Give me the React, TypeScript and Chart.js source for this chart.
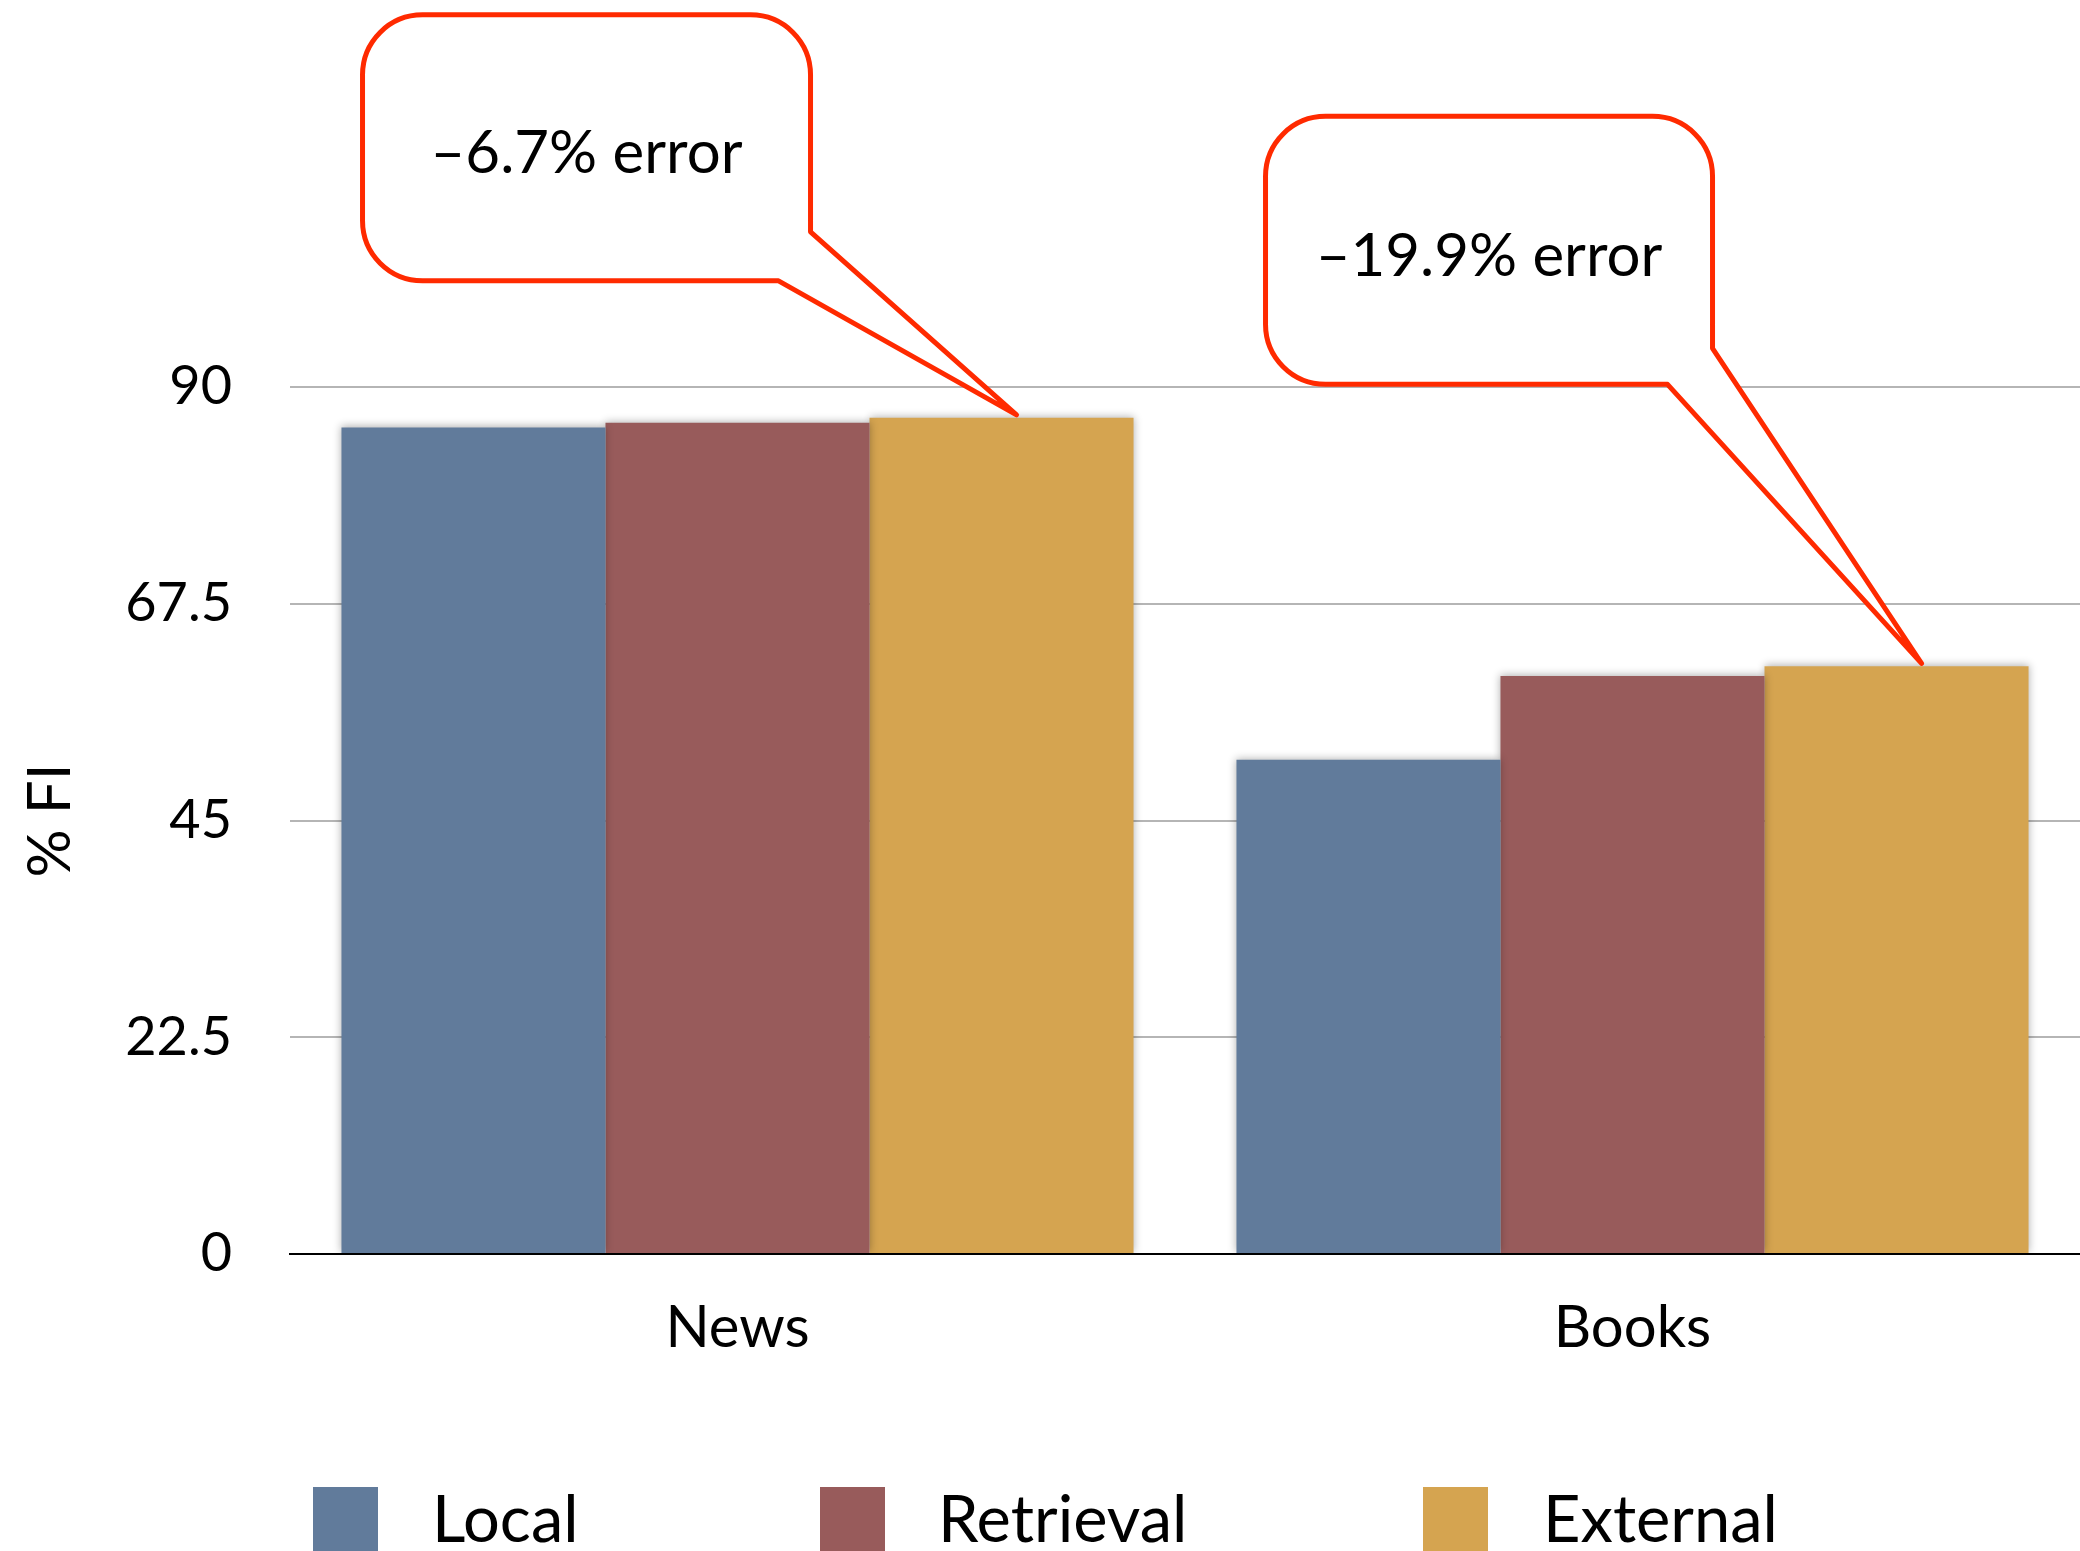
import React, { useEffect, useRef } from "react";
import { Chart, registerables } from "chart.js";

Chart.register(...registerables);

// ---- data ----
const categories = ["News", "Books"];
const seriesNames = ["Local", "Retrieval", "External"];
const localValues = [85.8, 51.3];
const retrievalValues = [86.3, 60.0];
const externalValues = [86.8, 61.0];
const yTickValues = [0, 22.5, 45, 67.5, 90];
const yAxisTitle = "% FI";
const calloutTexts = ["\u20136.7% error", "\u201319.9% error"];

// ---- styles ----
const seriesColors = ["#617b9b", "#985b5b", "#d5a450"];
const FONT = "Lato, 'Open Sans', sans-serif";
const RED = "#ff2a00";

// callout geometry relative to the tip (tip is anchored to the External bar of each category)
const calloutGeom = [
  { tipDx: 15, left: -654, top: -400, w: 448, h: 266, tailUp: 49, tailIn: 32, r: 60, textDy: 6 },
  { tipDx: 25, left: -656, top: -547, w: 447, h: 268, tailUp: 36, tailIn: 45, r: 60, textDy: 6 },
];

const barShadowPlugin = {
  id: "barShadow",
  beforeDatasetsDraw(chart: any) {
    const ctx = chart.ctx;
    ctx.save();
    ctx.shadowColor = "rgba(0,0,0,0.3)";
    ctx.shadowBlur = 8;
    ctx.shadowOffsetX = 0;
    ctx.shadowOffsetY = -1;
  },
  afterDatasetsDraw(chart: any) {
    chart.ctx.restore();
  },
};

const calloutPlugin = {
  id: "callouts",
  afterDraw(chart: any) {
    const ctx = chart.ctx;
    const meta = chart.getDatasetMeta(2);
    meta.data.forEach((bar: any, i: number) => {
      const g = calloutGeom[i];
      if (!g) return;
      const tipX = bar.x + g.tipDx;
      const tipY = bar.y - 3;
      const left = tipX + g.left;
      const top = tipY + g.top;
      const right = left + g.w;
      const bottom = top + g.h;
      const r = g.r;
      ctx.save();
      ctx.beginPath();
      ctx.moveTo(left + r, top);
      ctx.lineTo(right - r, top);
      ctx.arcTo(right, top, right, top + r, r);
      ctx.lineTo(right, bottom - g.tailUp);
      ctx.lineTo(tipX, tipY);
      ctx.lineTo(right - g.tailIn, bottom);
      ctx.lineTo(left + r, bottom);
      ctx.arcTo(left, bottom, left, bottom - r, r);
      ctx.lineTo(left, top + r);
      ctx.arcTo(left, top, left + r, top, r);
      ctx.closePath();
      ctx.fillStyle = "#ffffff";
      ctx.fill();
      ctx.lineWidth = 5;
      ctx.lineJoin = "round";
      ctx.strokeStyle = RED;
      ctx.stroke();
      ctx.fillStyle = "#000000";
      ctx.font = `60px ${FONT}`;
      ctx.textAlign = "center";
      ctx.textBaseline = "middle";
      ctx.fillText(calloutTexts[i], (left + right) / 2, (top + bottom) / 2 + g.textDy);
      ctx.restore();
    });
  },
};

const legendPos = [
  { box: 313, text: 432 },
  { box: 820, text: 938 },
  { box: 1423, text: 1543 },
];

const legendPlugin = {
  id: "bottomLegend",
  afterDraw(chart: any) {
    const ctx = chart.ctx;
    ctx.save();
    chart.data.datasets.forEach((ds: any, i: number) => {
      const p = legendPos[i];
      ctx.fillStyle = ds.backgroundColor;
      ctx.fillRect(p.box, 1487, 65, 64);
      ctx.fillStyle = "#000";
      ctx.font = `65px ${FONT}`;
      ctx.textAlign = "left";
      ctx.textBaseline = "middle";
      ctx.fillText(ds.label, p.text, 1521);
    });
    ctx.restore();
  },
};

export default function App() {
  const ref = useRef<HTMLCanvasElement | null>(null);

  useEffect(() => {
    if (!ref.current) return;
    const valueSets = [localValues, retrievalValues, externalValues];
    const chart = new Chart(ref.current, {
      type: "bar",
      data: {
        labels: categories,
        datasets: seriesNames.map((name, i) => ({
          label: name,
          data: valueSets[i],
          backgroundColor: seriesColors[i],
          borderWidth: 0,
          categoryPercentage: 0.885,
          barPercentage: 1.0,
        })),
      },
      options: {
        responsive: false,
        animation: false,
        maintainAspectRatio: false,
        layout: { padding: { top: 387, left: 0, right: 0, bottom: 177 } },
        plugins: {
          legend: { display: false },
          tooltip: { enabled: false },
        },
        scales: {
          x: {
            grid: { display: false },
            border: { display: true, color: "#000", width: 2 },
            ticks: {
              color: "#000",
              font: { family: FONT, size: 58 },
              padding: 31,
            },
            afterFit: (s: any) => {
              s.height = 120;
            },
          },
          y: {
            min: 0,
            max: 90,
            border: { display: false },
            grid: {
              drawTicks: false,
              lineWidth: 2,
              color: (c: any) => (c.tick && c.tick.value === 0 ? "#000" : "#b5b5b5"),
            },
            afterBuildTicks: (s: any) => {
              s.ticks = yTickValues.map((v) => ({ value: v }));
            },
            ticks: {
              color: "#000",
              font: { family: FONT, size: 54 },
              padding: 58,
              callback: (v: any) => String(v),
            },
            title: {
              display: true,
              text: yAxisTitle,
              color: "#000",
              font: { family: FONT, size: 60 },
              padding: { top: 15, bottom: 0 },
            },
            afterFit: (s: any) => {
              s.width = 290;
            },
          },
        },
      },
      plugins: [barShadowPlugin, calloutPlugin, legendPlugin],
    });
    return () => chart.destroy();
  }, []);

  return (
    <div style={{ position: "absolute", left: 0, top: 0, width: 2080, height: 1551, overflow: "hidden", background: "#fff" }}>
      <canvas ref={ref} width={2080} height={1551} style={{ display: "block", width: 2080, height: 1551 }} />
    </div>
  );
}
